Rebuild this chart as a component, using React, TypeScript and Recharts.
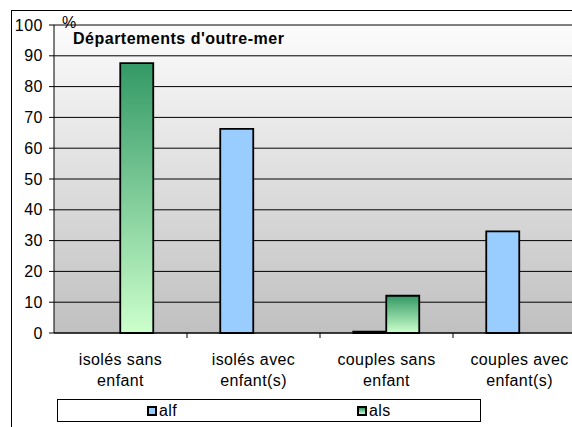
import { BarChart, Bar, XAxis, YAxis, CartesianGrid } from "recharts";

// household types (two-line labels)
const categories = [
  "isolés sans\nenfant",
  "isolés avec\nenfant(s)",
  "couples sans\nenfant",
  "couples avec\nenfant(s)",
];
const alfValues = [0, 66.3, 0.4, 33.0];
const alsValues = [87.6, 0, 12.1, 0];
const yTicks = [0, 10, 20, 30, 40, 50, 60, 70, 80, 90, 100];
const seriesNames = ["alf", "als"];

const data = categories.map((name, i) => ({ name, alf: alfValues[i], als: alsValues[i] }));

const FONT = '"Liberation Sans", Arial, sans-serif';
const CHART_W = 600;
const CHART_H = 427;
const MARGIN = { top: 25, right: 14, bottom: 30, left: 11 };
const Y_AXIS_W = 43;
const CAT_W = (CHART_W - MARGIN.left - MARGIN.right - Y_AXIS_W) / categories.length;

function CategoryTick(props: any) {
  const { x, y, payload } = props;
  const lines = String(payload.value).split("\n");
  return (
    <g>
      <line x1={x + CAT_W / 2} x2={x + CAT_W / 2} y1={y} y2={y + 5} stroke="#000" />
      {lines.map((l, i) => (
        <text
          key={i}
          x={x}
          y={y + 32 + i * 21}
          textAnchor="middle"
          fontSize={16}
          letterSpacing={0.4}
          fontFamily={FONT}
          fill="#000"
        >
          {l}
        </text>
      ))}
    </g>
  );
}

function LegendBox() {
  const swatch = [
    { left: 147, text: 159, fill: "#99CCFF" },
    { left: 357, text: 369, fill: "linear-gradient(#339966, #CCFFCC)" },
  ];
  return (
    <div
      style={{
        position: "absolute",
        left: 57,
        top: 399,
        width: 424,
        height: 23,
        border: "1px solid #000",
        background: "#fff",
        boxSizing: "border-box",
      }}
    >
      {seriesNames.map((s, i) => (
        <div key={s}>
          <div
            style={{
              position: "absolute",
              left: swatch[i].left - 58,
              top: 6,
              width: 10,
              height: 10,
              border: "2px solid #000",
              background: swatch[i].fill,
              boxSizing: "border-box",
            }}
          />
          <div
            style={{
              position: "absolute",
              left: swatch[i].text - 58,
              top: 1,
              fontSize: 16,
              letterSpacing: 0.4,
              fontFamily: FONT,
              lineHeight: "20px",
            }}
          >
            {s}
          </div>
        </div>
      ))}
    </div>
  );
}

export default function App() {
  return (
    <div
      style={{
        position: "absolute",
        left: 0,
        top: 0,
        width: 572,
        height: 427,
        overflow: "hidden",
        background: "#fff",
        fontFamily: FONT,
      }}
    >
      <div
        style={{
          position: "absolute",
          left: 11,
          top: 10,
          width: 700,
          height: 500,
          border: "1px solid #000",
          boxSizing: "border-box",
        }}
      />
      <BarChart
        width={CHART_W}
        height={CHART_H}
        data={data}
        margin={MARGIN}
        barCategoryGap="25%"
        barGap={0}
        style={{ position: "absolute", left: 0, top: 0 }}
      >
        <defs>
          <linearGradient id="plotBg" x1="0" y1="0" x2="0" y2="1">
            <stop offset="0%" stopColor="#FCFCFC" />
            <stop offset="100%" stopColor="#C0C0C0" />
          </linearGradient>
          <linearGradient id="alsFill" x1="0" y1="0" x2="0" y2="1">
            <stop offset="0%" stopColor="#339966" />
            <stop offset="100%" stopColor="#CCFFCC" />
          </linearGradient>
        </defs>
        <CartesianGrid vertical={false} stroke="#000" fill="url(#plotBg)" fillOpacity={1} />
        <XAxis
          dataKey="name"
          interval={0}
          height={CHART_H - MARGIN.top - MARGIN.bottom - 308}
          axisLine={{ stroke: "#000" }}
          tickLine={false}
          tickSize={0}
          tickMargin={0}
          tick={<CategoryTick />}
        />
        <YAxis
          width={Y_AXIS_W}
          domain={[0, 100]}
          ticks={yTicks}
          interval={0}
          axisLine={{ stroke: "#000" }}
          tickLine={{ stroke: "#000" }}
          tickSize={5}
          tickMargin={6}
          tick={{ fontSize: 16, fill: "#000", fontFamily: FONT, letterSpacing: 0.5 }}
        />
        <Bar dataKey="alf" fill="#99CCFF" stroke="#000" strokeWidth={1.8} isAnimationActive={false} />
        <Bar dataKey="als" fill="url(#alsFill)" stroke="#000" strokeWidth={1.8} isAnimationActive={false} />
      </BarChart>
      <div style={{ position: "absolute", left: 62, top: 14, fontSize: 16, lineHeight: "18px" }}>%</div>
      <div
        style={{
          position: "absolute",
          left: 73,
          top: 29,
          fontSize: 16,
          fontWeight: "bold",
          letterSpacing: 0.5,
          lineHeight: "20px",
        }}
      >
        Départements d'outre-mer
      </div>
      <LegendBox />
    </div>
  );
}
